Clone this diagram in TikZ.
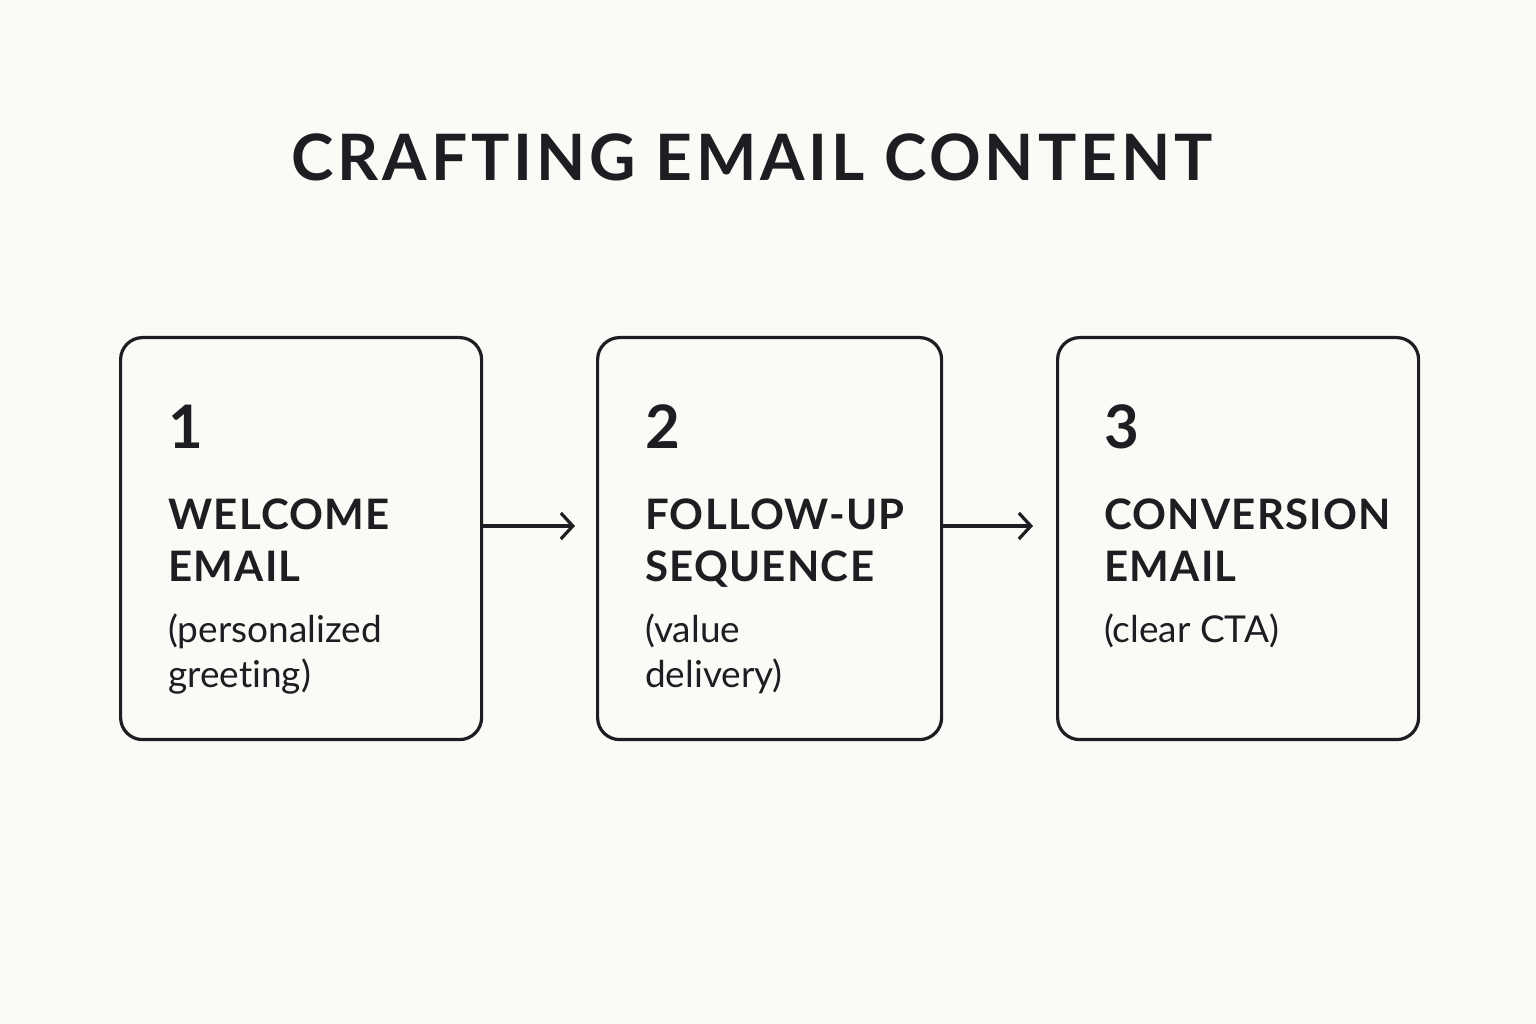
\documentclass[tikz,border=0pt]{standalone}
\usepackage{fontspec}
\setmainfont[Ligatures=NoCommon]{Lato}
\usetikzlibrary{arrows.meta}
\definecolor{bg}{HTML}{FBFAF6}
\definecolor{ink}{HTML}{1C1E21}
\begin{document}
\begin{tikzpicture}[x=1pt,y=1pt,
  box/.style={draw=ink,line width=3.2pt,rounded corners=22pt},
  num/.style={anchor=base west,text=ink,font=\fontsize{60}{60}\selectfont\bfseries,inner sep=0},
  head/.style={anchor=base west,text=ink,font=\fontsize{42}{52}\selectfont\bfseries\addfontfeature{LetterSpace=3},align=left,inner sep=0},
  sub/.style={anchor=base west,text=ink,font=\fontsize{37}{45}\selectfont,align=left,inner sep=0},
  arr/.style={draw=ink,line width=3.2pt,-{Straight Barb[length=12pt,width=26pt]}}]
\fill[bg] (0,0) rectangle (1536,1024);
\useasboundingbox (0,0) rectangle (1536,1024);
\node[text=ink,font=\fontsize{64}{64}\selectfont\bfseries\addfontfeature{LetterSpace=6},anchor=base] (title) at (752,843) {CRAFTING EMAIL CONTENT};
\node[box,minimum width=361pt,minimum height=402pt,anchor=north west] (b1) at (119,688) {};
\node[box,minimum width=344pt,minimum height=402pt,anchor=north west] (b2) at (596,688) {};
\node[box,minimum width=361pt,minimum height=402pt,anchor=north west] (b3) at (1056,688) {};
\node[num] (n1) at (168,575) {1};
\node[num] (n2) at (645,575) {2};
\node[num] (n3) at (1104,575) {3};
\node[head] (h1) at (168,442) {WELCOME\\EMAIL};
\node[head] (h2) at (645,442) {FOLLOW-UP\\SEQUENCE};
\node[head] (h3) at (1104,442) {CONVERSION\\EMAIL};
\node[sub] (s1) at (168,336) {(personalized\\greeting)};
\node[sub] (s2) at (645,336) {(value\\delivery)};
\node[sub] (s3) at (1104,381) {(clear CTA)};
\coordinate (a1) at (575,498);
\coordinate (a2) at (1033,498);
\draw[arr] (b1.east |- a1) -- (a1);
\draw[arr] (b2.east |- a2) -- (a2);
\end{tikzpicture}
\end{document}
